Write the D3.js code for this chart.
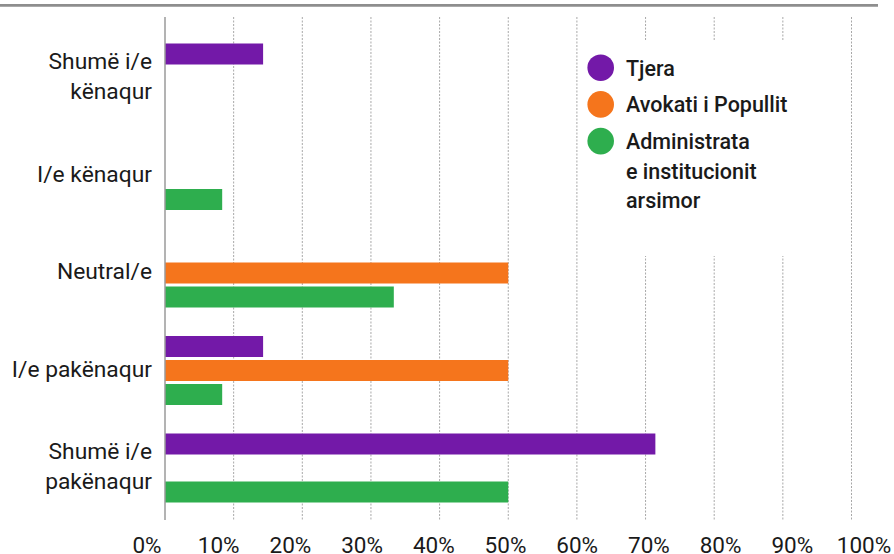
<!DOCTYPE html>
<html>
<head>
<meta charset="utf-8">
<script src="https://cdn.jsdelivr.net/npm/d3@7"></script>
<style>
  body { margin: 0; background: #fff; }
  svg { display: block; font-family: Roboto, "Noto Sans", sans-serif; }
</style>
</head>
<body>
<div id="chart"></div>
<script>
// Data
const categories = [["Shumë i/e", "kënaqur"], ["I/e kënaqur"], ["Neutral/e"], ["I/e pakënaqur"], ["Shumë i/e", "pakënaqur"]];
const seriesNames = ["Tjera", "Avokati i Popullit", "Administrata e institucionit arsimor"];
const legendLines = [["Tjera"], ["Avokati i Popullit"], ["Administrata", "e institucionit", "arsimor"]];
const tjera = [14.29, null, null, 14.29, 71.43];
const avokati = [null, null, 50, 50, null];
const administrata = [null, 8.33, 33.33, 8.33, 50];
const xTicks = [0, 10, 20, 30, 40, 50, 60, 70, 80, 90, 100];

// Styling
const colours = ["#7319a8", "#f5751c", "#2eae4e"];
const textColor = "#1a1a1a";
const gridColor = "#a8a8a8";

const width = 894, height = 554;
const plotTop = 17, plotBottom = 520;

const svg = d3.select("#chart").append("svg")
  .attr("width", width)
  .attr("height", height);

// top rule
svg.append("line")
  .attr("x1", 0).attr("x2", 878)
  .attr("y1", 5.3).attr("y2", 5.3)
  .attr("stroke", "#8e8e8e")
  .attr("stroke-width", 2.7);

// Scales
const x = d3.scaleLinear().domain([0, 100]).range([165, 851.5]);
const xLabel = d3.scaleLinear().domain([0, 100]).range([147, 864]);

const keys = categories.map(d => d.join(" "));
const y0 = d3.scaleBand().domain(keys).range([27.25, 514.75]);
const y1 = d3.scaleBand().domain(seriesNames).range([16.25, 85.25]).paddingInner(0.125);

// Gridlines (dotted)
svg.append("g")
  .selectAll("line")
  .data(xTicks.slice(1))
  .join("line")
  .attr("x1", d => x(d)).attr("x2", d => x(d))
  .attr("y1", plotTop).attr("y2", plotBottom)
  .attr("stroke", gridColor)
  .attr("stroke-width", 1)
  .attr("stroke-dasharray", "2,1.5");

// Bars
const rows = [];
[tjera, avokati, administrata].forEach((vals, s) => {
  vals.forEach((v, i) => {
    if (v != null) rows.push({ cat: keys[i], series: seriesNames[s], value: v, colour: colours[s] });
  });
});

svg.append("g")
  .selectAll("rect")
  .data(rows)
  .join("rect")
  .attr("x", x(0))
  .attr("y", d => y0(d.cat) + y1(d.series))
  .attr("width", d => x(d.value) - x(0))
  .attr("height", y1.bandwidth())
  .attr("fill", d => d.colour);

// zero line
svg.append("line")
  .attr("x1", x(0)).attr("x2", x(0))
  .attr("y1", plotTop).attr("y2", plotBottom)
  .attr("stroke", "#9a9a9a")
  .attr("stroke-width", 1.5);

// Category labels
const catLabels = svg.append("g")
  .selectAll("text")
  .data(categories)
  .join("text")
  .attr("text-anchor", "end")
  .attr("font-size", 22.8)
  .attr("fill", textColor)
  .attr("x", 152)
  .attr("y", (d, i) => y0(keys[i]) + y0.bandwidth() / 2 + 8 - (d.length - 1) * 15);

catLabels.selectAll("tspan")
  .data(d => d)
  .join("tspan")
  .attr("x", 152)
  .attr("dy", (d, i) => i === 0 ? 0 : 30)
  .text(d => d);

// X tick labels
svg.append("g")
  .selectAll("text")
  .data(xTicks)
  .join("text")
  .attr("x", d => xLabel(d))
  .attr("y", 553)
  .attr("text-anchor", "middle")
  .attr("font-size", 22.5)
  .attr("fill", textColor)
  .text(d => d + "%");

// Legend
const legend = svg.append("g");
legend.append("rect")
  .attr("x", 580).attr("y", 41)
  .attr("width", 268).attr("height", 215)
  .attr("fill", "#fff");

const legendItems = legend.selectAll("g")
  .data(legendLines)
  .join("g")
  .attr("transform", (d, i) => `translate(0, ${67.7 + i * 36.7})`);

legendItems.append("circle")
  .attr("cx", 600.7)
  .attr("cy", 0)
  .attr("r", 13.3)
  .attr("fill", (d, i) => colours[i]);

legendItems.append("text")
  .attr("font-size", 21.5)
  .attr("font-weight", 500)
  .attr("fill", textColor)
  .attr("y", 8)
  .selectAll("tspan")
  .data(d => d)
  .join("tspan")
  .attr("x", 626)
  .attr("dy", (d, i) => i === 0 ? 0 : 29.5)
  .text(d => d);
</script>
</body>
</html>
